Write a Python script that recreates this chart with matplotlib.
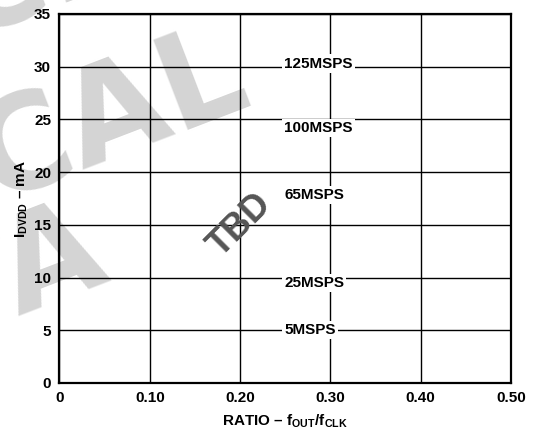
import numpy as np
import matplotlib
matplotlib.use("Agg")
import matplotlib.pyplot as plt

plt.rcParams['font.family'] = ['Liberation Sans', 'DejaVu Sans']
plt.rcParams['mathtext.fontset'] = 'custom'
plt.rcParams['mathtext.rm'] = 'Liberation Sans:bold'
plt.rcParams['mathtext.bf'] = 'Liberation Sans:bold'
plt.rcParams['mathtext.it'] = 'Liberation Sans:bold'

# curve labels (rates) and where they sit on the chart
rates = ["125MSPS", "100MSPS", "65MSPS", "25MSPS", "5MSPS"]
rate_y = [30.3, 24.2, 17.8, 9.5, 5.0]
rate_x = 0.249

x_ticks = [0, 0.10, 0.20, 0.30, 0.40, 0.50]
x_ticklabels = ["0", "0.10", "0.20", "0.30", "0.40", "0.50"]
y_ticks = [0, 5, 10, 15, 20, 25, 30, 35]

fig = plt.figure(figsize=(5.33, 4.33), dpi=100)

# light watermark behind the plot
wm = dict(fontsize=94, fontweight='bold', family='DejaVu Sans', color='#d4d4d4',
          rotation=21, rotation_mode='anchor', ha='right', va='baseline', zorder=-1)
fig.text(0.26, 1.06, "ADVANCE", **wm)
fig.text(0.478, 0.76, "TECHNICAL", **wm)
fig.text(0.21, 0.362, "DATA", **wm)

ax = fig.add_axes([0.1116, 0.1155, 0.8471, 0.8522])
ax.patch.set_alpha(0)
ax.set_xlim(0, 0.5)
ax.set_ylim(0, 35)
ax.set_xticks(x_ticks)
ax.set_xticklabels(x_ticklabels)
ax.set_yticks(y_ticks)
ax.tick_params(length=0, pad=6, labelsize=11)
for lab in ax.get_xticklabels() + ax.get_yticklabels():
    lab.set_fontweight('bold')
ax.grid(True, color='black', lw=1.0)
for sp in ax.spines.values():
    sp.set_linewidth(1.6)

for name, y in zip(rates, rate_y):
    ax.text(rate_x, y, name, fontsize=11, fontweight='bold', ha='left', va='center',
            bbox=dict(facecolor='white', edgecolor='none', pad=1.5), zorder=5)

ax.text(0.20, 15, "TBD", fontsize=26, fontweight='bold', color='#555555', rotation=45,
        ha='center', va='center', zorder=6)

ax.set_xlabel(r"RATIO – $\mathregular{f_{OUT}/f_{CLK}}$", fontsize=11, fontweight='bold', labelpad=5)
ax.set_ylabel(r"$\mathregular{I_{DVDD}}$ – mA", fontsize=11, fontweight='bold', labelpad=3)

fig.savefig("out.png", dpi=100)
